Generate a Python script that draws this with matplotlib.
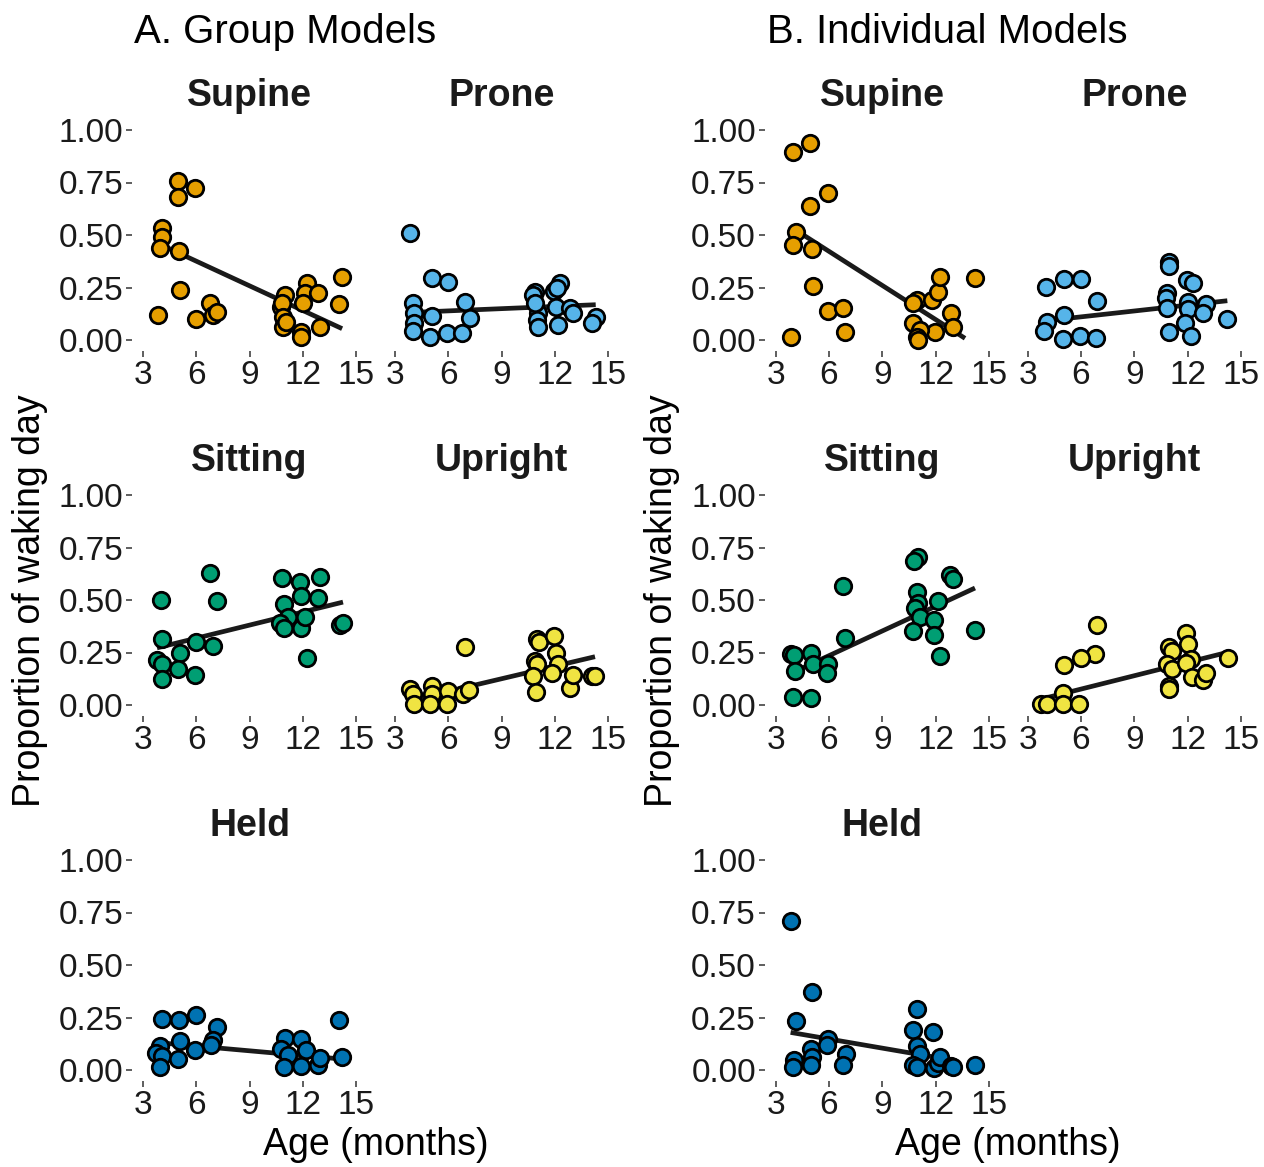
import matplotlib
matplotlib.use("Agg")
import matplotlib.pyplot as plt

plt.rcParams['font.family'] = ['Liberation Sans', 'DejaVu Sans']

postures = ["Supine", "Prone", "Sitting", "Upright", "Held"]
colors = ["#E69F00", "#56B4E9", "#009E73", "#F0E442", "#0072B2"]
x_ticks = [3, 6, 9, 12, 15]
y_ticks = [0.0, 0.25, 0.5, 0.75, 1.0]
y_tick_labels = ["0.00", "0.25", "0.50", "0.75", "1.00"]

# A. Group models (age in months, proportion of waking day)
a_supine_x = [4.97, 5.9, 4.97, 4.07, 4.07, 3.98, 5.03, 5.06, 3.84, 5.96, 6.75, 6.94, 7.16, 10.97, 10.78, 10.82,
              10.88, 10.88, 11.06, 12.24, 12.1, 12.84, 12.0, 11.9, 11.9, 12.98, 14.2, 14.03]
a_supine_y = [0.757, 0.725, 0.683, 0.532, 0.489, 0.437, 0.425, 0.238, 0.119, 0.098, 0.178, 0.119, 0.132, 0.214,
              0.159, 0.175, 0.111, 0.063, 0.087, 0.27, 0.222, 0.222, 0.175, 0.04, 0.016, 0.063, 0.298, 0.171]
a_prone_x = [3.84, 5.1, 6.0, 4.03, 4.09, 4.09, 4.03, 5.06, 4.97, 5.9, 6.79, 6.94, 7.2, 10.88, 10.78, 12.28, 11.96,
             11.06, 10.97, 11.03, 12.04, 12.19, 12.84, 13.03, 14.29, 14.1, 10.85, 12.1]
a_prone_y = [0.508, 0.294, 0.278, 0.178, 0.130, 0.079, 0.044, 0.114, 0.016, 0.032, 0.032, 0.183, 0.103, 0.230,
             0.214, 0.270, 0.235, 0.127, 0.095, 0.063, 0.159, 0.071, 0.151, 0.130, 0.111, 0.079, 0.175, 0.25]
a_sitting_x = [6.79, 3.99, 7.16, 4.07, 3.79, 4.07, 4.09, 5.06, 4.97, 5.9, 5.96, 6.94, 10.82, 11.81, 12.98, 11.9,
               12.84, 10.91, 11.16, 10.72, 10.91, 11.9, 12.13, 12.24, 14.06, 14.25]
a_sitting_y = [0.629, 0.5, 0.494, 0.315, 0.215, 0.194, 0.126, 0.25, 0.170, 0.142, 0.299, 0.283, 0.607, 0.588,
               0.608, 0.521, 0.511, 0.481, 0.417, 0.389, 0.369, 0.369, 0.417, 0.223, 0.382, 0.389]
a_upright_x = [6.94, 3.84, 4.03, 4.09, 5.06, 5.06, 4.97, 6.0, 5.9, 6.84, 7.16, 10.97, 11.1, 11.96, 12.04, 10.88,
               10.97, 12.15, 11.81, 10.78, 10.91, 12.84, 13.0, 14.1, 14.25]
a_upright_y = [0.277, 0.075, 0.051, 0.006, 0.091, 0.051, 0.006, 0.067, 0.006, 0.051, 0.070, 0.314, 0.298, 0.330,
               0.25, 0.210, 0.197, 0.197, 0.154, 0.139, 0.064, 0.083, 0.142, 0.139, 0.139]
a_held_x = [4.09, 5.03, 5.96, 7.16, 6.94, 3.98, 3.75, 4.07, 3.98, 5.06, 4.97, 5.9, 6.85, 10.97, 11.9, 10.74, 11.16,
            12.15, 10.91, 11.9, 12.84, 12.98, 14.03, 14.21]
a_held_y = [0.243, 0.237, 0.261, 0.203, 0.144, 0.115, 0.083, 0.067, 0.016, 0.139, 0.051, 0.093, 0.12, 0.152,
            0.147, 0.099, 0.072, 0.096, 0.016, 0.019, 0.024, 0.056, 0.237, 0.064]

# B. Individual models
b_supine_x = [3.99, 4.93, 5.93, 4.93, 4.13, 3.99, 5.03, 5.08, 5.96, 6.81, 6.9, 3.84, 10.93, 10.74, 11.78, 12.15,
              12.24, 14.21, 12.84, 13.0, 11.96, 10.74, 11.12, 10.93, 11.03]
b_supine_y = [0.897, 0.937, 0.698, 0.640, 0.516, 0.452, 0.432, 0.259, 0.140, 0.151, 0.037, 0.016, 0.190, 0.178,
              0.190, 0.230, 0.302, 0.294, 0.127, 0.060, 0.040, 0.083, 0.048, 0.016, 0.0]
b_prone_x = [4.03, 5.06, 6.0, 6.92, 4.07, 3.94, 5.04, 4.97, 5.94, 6.83, 10.95, 10.95, 11.94, 12.32, 10.82, 10.76,
             10.82, 12.0, 12.04, 13.01, 12.84, 11.85, 10.95, 12.19, 14.23]
b_prone_y = [0.254, 0.289, 0.289, 0.187, 0.087, 0.044, 0.119, 0.005, 0.021, 0.008, 0.373, 0.352, 0.286, 0.27,
             0.222, 0.198, 0.151, 0.183, 0.146, 0.170, 0.127, 0.083, 0.040, 0.019, 0.098]
b_sitting_x = [11.03, 10.8, 12.81, 13.0, 6.81, 10.97, 10.99, 12.15, 10.84, 11.12, 11.91, 10.74, 11.93, 12.24,
               14.21, 6.9, 3.86, 4.05, 4.99, 5.12, 5.96, 5.91, 4.09, 3.99, 4.99]
b_sitting_y = [0.707, 0.685, 0.619, 0.600, 0.568, 0.537, 0.484, 0.494, 0.460, 0.420, 0.404, 0.354, 0.334, 0.234,
               0.358, 0.317, 0.242, 0.237, 0.25, 0.197, 0.197, 0.154, 0.162, 0.040, 0.032]
b_upright_x = [6.92, 6.79, 5.98, 5.06, 5.01, 3.75, 4.07, 4.97, 5.91, 11.91, 12.0, 10.95, 11.14, 10.82, 11.1, 12.19,
               11.89, 12.23, 12.88, 13.01, 10.95, 10.95, 14.25]
b_upright_y = [0.382, 0.245, 0.226, 0.191, 0.056, 0.006, 0.003, 0.006, 0.003, 0.341, 0.290, 0.277, 0.258, 0.197,
               0.170, 0.218, 0.202, 0.131, 0.118, 0.154, 0.091, 0.075, 0.226]
b_held_x = [3.84, 5.03, 4.13, 4.05, 3.99, 4.97, 5.03, 4.97, 5.96, 5.91, 6.94, 6.81, 10.97, 10.74, 11.87, 10.93,
            11.12, 10.74, 10.93, 11.93, 12.15, 12.24, 12.84, 13.0, 14.21]
b_held_y = [0.709, 0.373, 0.232, 0.048, 0.016, 0.099, 0.061, 0.024, 0.149, 0.117, 0.077, 0.024, 0.291, 0.192,
            0.179, 0.112, 0.077, 0.024, 0.016, 0.008, 0.035, 0.064, 0.019, 0.016, 0.024]

# fitted lines: start/end age and predicted proportion, one entry per posture
a_fit_x0 = [3.84, 3.84, 3.79, 3.84, 3.75]
a_fit_x1 = [14.2, 14.29, 14.25, 14.25, 14.21]
a_fit_y0 = [0.460, 0.131, 0.272, 0.022, 0.131]
a_fit_y1 = [0.054, 0.168, 0.490, 0.230, 0.052]
b_fit_x0 = [3.84, 3.94, 3.86, 3.75, 3.84]
b_fit_x1 = [13.65, 14.23, 14.21, 14.25, 12.24]
b_fit_y0 = [0.539, 0.091, 0.151, 0.028, 0.179]
b_fit_y1 = [0.008, 0.187, 0.557, 0.251, 0.057]

a_x = [a_supine_x, a_prone_x, a_sitting_x, a_upright_x, a_held_x]
a_y = [a_supine_y, a_prone_y, a_sitting_y, a_upright_y, a_held_y]
b_x = [b_supine_x, b_prone_x, b_sitting_x, b_upright_x, b_held_x]
b_y = [b_supine_y, b_prone_y, b_sitting_y, b_upright_y, b_held_y]

W, H = 1264, 1167
PW, PH = 234.7, 231
fig = plt.figure(figsize=(W / 100, H / 100), dpi=100)

col_left = {"A": [132.3, 384.3], "B": [765.0, 1017.0]}
row_top = [119.5, 484.5, 849.5]


def panel(left, top, xs, ys, color, fit, name, show_y):
    ax = fig.add_axes([left / W, 1 - (top + PH) / H, PW / W, PH / H])
    ax.plot([fit[0], fit[1]], [fit[2], fit[3]], color="#1a1a1a", lw=3.4,
            solid_capstyle="butt", zorder=2)
    ax.scatter(xs, ys, s=140, c=color, edgecolors="black", linewidths=2.0, zorder=3)
    ax.set_xlim(2.4, 15.6)
    ax.set_ylim(-0.05, 1.05)
    for s in ax.spines.values():
        s.set_visible(False)
    ax.set_xticks(x_ticks)
    ax.set_xticklabels([str(t) for t in x_ticks])
    ax.set_yticks(y_ticks)
    if show_y:
        ax.set_yticklabels(y_tick_labels)
    else:
        ax.tick_params(axis="y", left=False, labelleft=False)
    ax.tick_params(direction="out", length=4.5, width=1.1, color="#333333",
                   labelsize=24, labelcolor="#1a1a1a", pad=2)
    ax.text(0.5, 1.10, name, transform=ax.transAxes, ha="center", va="center",
            fontsize=27, fontweight="bold", color="#1a1a1a")
    return ax


for key, xs_all, ys_all, fx0, fx1, fy0, fy1 in [
        ("A", a_x, a_y, a_fit_x0, a_fit_x1, a_fit_y0, a_fit_y1),
        ("B", b_x, b_y, b_fit_x0, b_fit_x1, b_fit_y0, b_fit_y1)]:
    for i, name in enumerate(postures):
        row, col = divmod(i, 2)
        panel(col_left[key][col], row_top[row], xs_all[i], ys_all[i], colors[i],
              (fx0[i], fx1[i], fy0[i], fy1[i]), name, col == 0)

fig.text(285 / W, 1 - 32 / H, "A. Group Models", ha="center", va="center", fontsize=29, color="black")
fig.text(947 / W, 1 - 32 / H, "B. Individual Models", ha="center", va="center", fontsize=29, color="black")
for xc in [30, 662]:
    fig.text(xc / W, 1 - 601 / H, "Proportion of waking day", rotation=90, ha="center", va="center",
             fontsize=27, color="black")
for xc in [376, 1008]:
    fig.text(xc / W, 1 - 1145 / H, "Age (months)", ha="center", va="center", fontsize=27, color="black")

fig.savefig("out.png", dpi=100, facecolor="white")
